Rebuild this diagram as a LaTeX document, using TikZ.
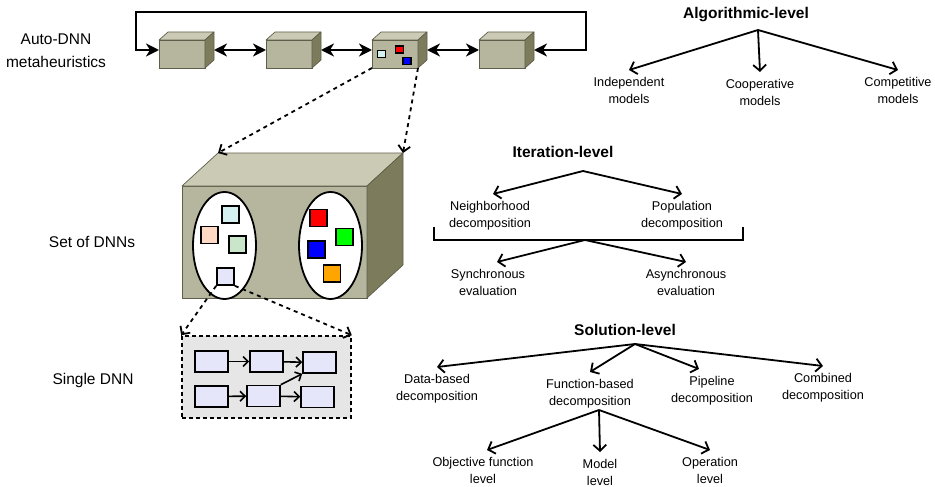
\documentclass[tikz,border=0pt]{standalone}
\usepackage{fontspec}
\setmainfont{Liberation Sans}
\usepackage{xcolor}
\usetikzlibrary{shapes,arrows,positioning,calc,arrows.meta}

\definecolor{cubelight}{HTML}{CBCBB5}
\definecolor{cubemid}{HTML}{B6B69E}
\definecolor{cubedark}{HTML}{7C7C5C}
\definecolor{cubeline}{HTML}{5E5E4A}
\definecolor{boxgrey}{HTML}{E6E6E6}
\definecolor{dnnlav}{HTML}{E6E6FA}
\definecolor{dnncyan}{HTML}{D4F0F0}
\definecolor{dnnpeach}{HTML}{FFD9C4}
\definecolor{dnnmint}{HTML}{C9E6CB}
\definecolor{dnnorange}{HTML}{FFA500}

% cube: name, centre of front face, width, height, depth x, depth y
\newcommand{\dnncube}[6]{%
    \node[cubefront, minimum width=#3, minimum height=#4] (#1) at #2 {};
    \filldraw[cubetop] (#1.north west) -- ++(#5,-#6) coordinate (#1-tl) -- ++(#3,0) coordinate (#1-tr) -- (#1.north east) -- cycle;
    \filldraw[cubeside] (#1.north east) -- ++(#5,-#6) -- ++(0,#4) -- (#1.south east) -- cycle;
}

\begin{document}
\begin{tikzpicture}[x=1pt, y=-1pt,
    cubefront/.style={draw=cubeline, fill=cubemid, line width=0.7pt, inner sep=0pt, outer sep=0pt},
    cubetop/.style={draw=cubeline, fill=cubelight, line width=0.7pt, line join=round},
    cubeside/.style={draw=cubeline, fill=cubedark, line width=0.7pt, line join=round},
    dblarrow/.style={line width=2pt, >={Stealth[length=13pt,width=13pt,inset=4pt]}, <->},
    dasharrow/.style={line width=1.8pt, dash pattern=on 4pt off 4pt, -{Straight Barb[length=6pt,width=12pt]}},
    tree/.style={line width=1.8pt, -{Straight Barb[length=6pt,width=13pt]}},
    innerarrow/.style={line width=1.6pt, -{Straight Barb[length=5pt,width=10pt]}},
    minisq/.style={draw, line width=1.5pt, minimum width=8pt, minimum height=7pt, inner sep=0pt},
    dnnsq/.style={draw, line width=1.7pt, minimum size=17pt, inner sep=0pt},
    pop/.style={ellipse, draw, fill=white, line width=1.8pt, minimum width=63pt, minimum height=107pt, inner sep=0pt},
    layer/.style={draw, fill=dnnlav, line width=1.6pt, minimum width=33pt, minimum height=21pt, inner sep=0pt},
    leftlbl/.style={font=\fontsize{15.5}{23}\selectfont, align=center},
    title/.style={font=\bfseries\fontsize{15.5}{19}\selectfont},
    leaf/.style={font=\fontsize{12.7}{17}\selectfont, align=center, anchor=north, inner xsep=3pt, inner ysep=7pt}]
    \useasboundingbox (0,0) rectangle (935,487);

    % Metaheuristics chain
    \dnncube{m1}{(182,54)}{46}{28}{9}{8}
    \dnncube{m2}{(289,54)}{46}{28}{9}{8}
    \dnncube{m3}{(395,54)}{46}{28}{9}{8}
    \dnncube{m4}{(502,54)}{46}{28}{9}{8}
    \node[minisq, fill=dnncyan] (m3a) at (381.5,54) {};
    \node[minisq, fill=red] (m3b) at (399.5,49.5) {};
    \node[minisq, fill=blue] (m3c) at (407,61) {};

    \draw[dblarrow] ([xshift=9pt,yshift=4pt]m1.east) -- ([yshift=4pt]m2.west);
    \draw[dblarrow] ([xshift=9pt,yshift=4pt]m2.east) -- ([yshift=4pt]m3.west);
    \draw[dblarrow] ([xshift=9pt,yshift=4pt]m3.east) -- ([yshift=4pt]m4.west);
    \draw[dblarrow] ([xshift=9pt,yshift=4pt]m4.east) -| (586,12) -| (136,50) -- ([yshift=4pt]m1.west);

    \node[leftlbl] (autolbl) at (56,51) {Auto-DNN\\metaheuristics};

    % Set of DNNs
    \dnncube{set}{(274.5,242)}{185}{112}{36}{33}
    \node[pop] (popA) at (224.5,245.5) {};
    \node[pop] (popB) at (330.5,245.5) {};
    \foreach \nm/\x/\y/\c in {a1/230.5/214.5/dnncyan, a2/209.5/235/dnnpeach, a3/237.5/244.5/dnnmint, a4/225.5/276.5/dnnlav,
                               b1/318.5/218/red, b2/344.5/237/green, b3/316.5/249.5/blue, b4/332/273.5/dnnorange}
        \node[dnnsq, fill=\c] (\nm) at (\x,\y) {};

    \draw[dasharrow] (m3.south west) -- (set-tl);
    \draw[dasharrow] (m3.south east) -- (set-tr);

    \node[leftlbl] (setlbl) at (92,242) {Set of DNNs};

    % Single DNN
    \node[draw, line width=1.6pt, dash pattern=on 4pt off 3pt, fill=boxgrey, minimum width=169pt, minimum height=82pt] (single) at (266.5,377) {};
    \node[layer] (l11) at (211.5,361.5) {};
    \node[layer] (l12) at (266.5,361.5) {};
    \node[layer] (l13) at (319.5,362.5) {};
    \node[layer] (l21) at (211.5,396.5) {};
    \node[layer] (l22) at (263.5,396) {};
    \node[layer] (l23) at (317.5,397) {};
    \draw[innerarrow] (l11) -- (l12);
    \draw[innerarrow] (l12) -- (l13);
    \draw[innerarrow] (l21) -- (l22);
    \draw[innerarrow] (l22) -- (l23);
    \draw[innerarrow] (l22.north east) -- (l13.south west);

    \draw[dasharrow] (a4.south west) -- (single.north west);
    \draw[dasharrow] (a4.south east) -- (single.north east);

    \node[leftlbl] (singlelbl) at (93,380) {Single DNN};

    % Algorithmic-level
    \node[title] (algo) at (746,15) {Algorithmic-level};
    \coordinate (algotop) at (758,30);
    \node[leaf] (indep) at (629,70) {Independent\\models};
    \node[leaf] (coop) at (760,72) {Cooperative\\models};
    \node[leaf] (compet) at (898,70) {Competitive\\models};
    \foreach \t in {indep,coop,compet}
        \draw[tree] (algotop) -- (\t.north);

    % Iteration-level
    \node[title] (iter) at (563,152) {Iteration-level};
    \coordinate (itertop) at (583,171);
    \node[leaf] (neigh) at (490,194) {Neighborhood\\decomposition};
    \node[leaf] (popdec) at (682,194) {Population\\decomposition};
    \draw[tree] (itertop) -- ([xshift=3pt]neigh.north);
    \draw[tree] (itertop) -- (popdec.north);
    \draw[line width=2pt] (434,227) |- (743,240) -- (743,227);
    \coordinate (evaltop) at (585,240);
    \node[leaf] (sync) at (488,262) {Synchronous\\evaluation};
    \node[leaf] (async) at (686,262) {Asynchronous\\evaluation};
    \draw[tree] (evaltop) -- ([xshift=9pt]sync.north);
    \draw[tree] (evaltop) -- (async.north);

    % Solution-level
    \node[title] (sol) at (625,330) {Solution-level};
    \coordinate (soltop) at (635,344);
    \node[leaf] (data) at (437,367) {Data-based\\decomposition};
    \node[leaf] (func) at (590,372) {Function-based\\decomposition};
    \node[leaf] (pipe) at (712,369) {Pipeline\\decomposition};
    \node[leaf] (comb) at (823,366) {Combined\\decomposition};
    \draw[tree] (soltop) -- (data.north);
    \draw[tree] (soltop) -- (func.north);
    \draw[tree] (soltop) -- ([xshift=-13pt]pipe.north);
    \draw[tree] (soltop) -- (comb.north);
    \coordinate (functop) at (599,410);
    \node[leaf] (objf) at (483,450) {Objective function\\level};
    \node[leaf] (model) at (600,452) {Model\\level};
    \node[leaf] (oper) at (710,450) {Operation\\level};
    \draw[tree] (functop) -- ([xshift=4pt]objf.north);
    \draw[tree] (functop) -- (model.north);
    \draw[tree] (functop) -- (oper.north);
\end{tikzpicture}
\end{document}
